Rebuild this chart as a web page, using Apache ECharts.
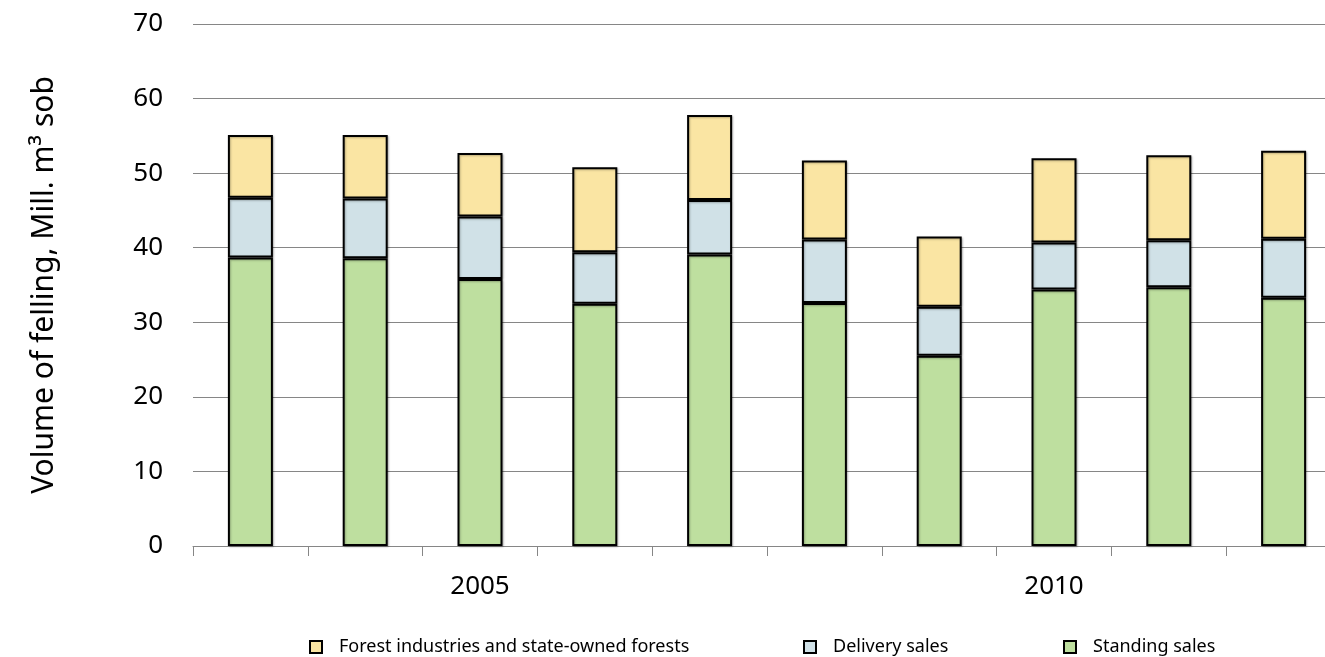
<!DOCTYPE html>
<html>
<head>
<meta charset="utf-8">
<script src="https://cdn.jsdelivr.net/npm/echarts@6/dist/echarts.min.js"></script>
<style>
html,body{margin:0;padding:0;background:#fff;overflow:hidden;width:1325px;height:657px;}
#chart{width:1345px;height:657px;}
</style>
</head>
<body>
<div id="chart"></div>
<script>
// Categories (years) and the labels actually shown on the x axis
var years = ['2003','2004','2005','2006','2007','2008','2009','2010','2011','2012'];
var shownYearLabels = ['2005','2010'];
// Series values, Mill. m3 sob (stacked components)
var standingSales = [38.7, 38.6, 35.8, 32.5, 39.1, 32.6, 25.5, 34.4, 34.7, 33.3];
var deliverySales = [8.0, 8.0, 8.4, 6.9, 7.3, 8.5, 6.6, 6.3, 6.3, 7.9];
var forestIndustries = [8.4, 8.5, 8.5, 11.4, 11.4, 10.6, 9.4, 11.3, 11.4, 11.8];
// Y axis ticks
var yTicks = [0, 10, 20, 30, 40, 50, 60, 70];

var FONT = '"Noto Sans", "Open Sans", sans-serif';
var names = ['Forest industries and state-owned forests', 'Delivery sales', 'Standing sales'];
var colors = {
  'Standing sales': '#BEDF9F',
  'Delivery sales': '#D0E1E7',
  'Forest industries and state-owned forests': '#FAE5A3'
};

function barSeries(name, data) {
  return {
    name: name,
    type: 'bar',
    stack: 'total',
    data: data,
    barWidth: 45,
    itemStyle: {
      color: colors[name],
      borderColor: '#000',
      borderWidth: 2,
      shadowColor: 'rgba(0,0,0,0.25)',
      shadowBlur: 2,
      shadowOffsetX: 1,
      shadowOffsetY: 1
    },
    emphasis: {disabled: true}
  };
}

function legendAt(left, name) {
  return {
    left: left,
    top: 633,
    data: [name],
    icon: 'rect',
    itemWidth: 12,
    itemHeight: 12,
    itemGap: 0,
    textStyle: {fontFamily: FONT, fontSize: 18, color: '#000', padding: [0, 0, 0, 12]},
    selectedMode: false
  };
}

var chart = echarts.init(document.getElementById('chart'), null, {renderer: 'canvas'});
chart.setOption({
  backgroundColor: '#fff',
  animation: false,
  grid: {left: 193, right: 4, top: 24, bottom: 111, containLabel: false},
  legend: [
    legendAt(304, names[0]),
    legendAt(798, names[1]),
    legendAt(1058, names[2])
  ],
  xAxis: {
    type: 'category',
    data: years,
    axisLine: {show: true, lineStyle: {color: '#868686', width: 1}},
    axisTick: {show: true, interval: 0, length: 10, lineStyle: {color: '#868686'}},
    axisLabel: {
      interval: function (idx, val) { return shownYearLabels.indexOf(val) >= 0; },
      margin: 28,
      fontFamily: FONT,
      fontSize: 26,
      color: '#000'
    }
  },
  yAxis: {
    type: 'value',
    min: yTicks[0],
    max: yTicks[yTicks.length - 1],
    interval: 10,
    name: 'Volume of felling, Mill. m\u00B3 sob',
    nameLocation: 'middle',
    nameGap: 134,
    nameTextStyle: {fontFamily: FONT, fontSize: 30, color: '#000'},
    axisLine: {show: false},
    axisTick: {show: false},
    axisLabel: {margin: 30, fontFamily: FONT, fontSize: 26, color: '#000'},
    splitLine: {show: true, lineStyle: {color: '#868686', width: 1}}
  },
  series: [
    barSeries('Standing sales', standingSales),
    barSeries('Delivery sales', deliverySales),
    barSeries('Forest industries and state-owned forests', forestIndustries)
  ]
});
</script>
</body>
</html>
